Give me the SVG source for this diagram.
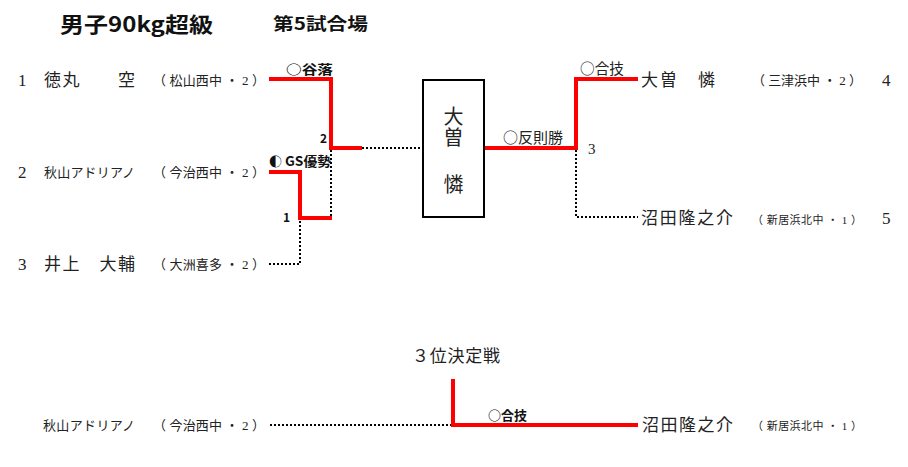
<svg xmlns="http://www.w3.org/2000/svg" width="908" height="467" viewBox="0 0 908 467">
<style>
.t{font-family:"Liberation Serif","Noto Sans CJK JP",serif;fill:#222}
.j{font-family:"Noto Sans CJK JP","Liberation Sans",sans-serif;fill:#222}
.g{font-family:"Noto Sans CJK JP","Liberation Sans",sans-serif;font-weight:bold;fill:#111}
.nm{font-size:17px}
.sm{font-size:13px}
.num{font-size:17px}
.red{stroke:#ff0000;stroke-width:4;fill:none}
.dot{stroke:#000;stroke-width:2;stroke-dasharray:2 2;fill:none}
</style>
<rect width="908" height="467" fill="#fff"/>
<g id="title">
<text class="g" x="60" y="32" font-size="21" textLength="153" lengthAdjust="spacingAndGlyphs">男子90kg超級</text>
<text class="g" x="273" y="30" font-size="17" textLength="95" lengthAdjust="spacingAndGlyphs">第5試合場</text>
</g>
<g id="connectors">
<polyline class="red" points="269,79 331,79 331,148 362,148"/>
<line class="dot" x1="362" y1="148" x2="423" y2="148"/>
<polyline class="red" points="269,172 300,172 300,218 332,218"/>
<line class="dot" x1="331" y1="150" x2="331" y2="216"/>
<polyline class="dot" points="269,264 300,264 300,220"/>
<polyline class="red" points="484,148 576,148 576,79 638,79"/>
<polyline class="dot" points="576,150 576,217 638,217"/>
<line class="dot" x1="270" y1="425" x2="453" y2="425"/>
<polyline class="red" points="453,379 453,425 638,425"/>
</g>
<g id="labels">
<text class="g" x="286" y="74" font-size="13" textLength="47" lengthAdjust="spacingAndGlyphs">○谷落</text>
<text class="g" x="320" y="143" font-size="12">2</text>
<text class="g" x="269" y="166" font-size="13">◐</text>
<text class="g" x="285" y="166" font-size="13" textLength="46" lengthAdjust="spacingAndGlyphs">GS優勢</text>
<text class="g" x="283" y="222" font-size="12">1</text>
<text class="j" x="503" y="143" font-size="15" textLength="60" lengthAdjust="spacingAndGlyphs">○反則勝</text>
<text class="j" x="580" y="74" font-size="15" textLength="44" lengthAdjust="spacingAndGlyphs">○合技</text>
<text class="t" x="588" y="154" font-size="15">3</text>
<text class="g" x="488" y="420" font-size="13" textLength="39" lengthAdjust="spacingAndGlyphs">○合技</text>
</g>
<g id="p1">
<text class="t num" x="18" y="86">1</text>
<text class="t nm" x="44" y="86" textLength="91">徳丸　　空</text>
<text class="t sm" x="153" y="85" textLength="112">（ 松山西中 ・ 2 ）</text>
</g>
<g id="p2">
<text class="t num" x="18" y="178">2</text>
<text class="t sm" x="44" y="177" textLength="91">秋山アドリアノ</text>
<text class="t sm" x="153" y="177" textLength="112">（ 今治西中 ・ 2 ）</text>
</g>
<g id="p3">
<text class="t num" x="18" y="270">3</text>
<text class="t nm" x="44" y="270" textLength="91">井上　大輔</text>
<text class="t sm" x="153" y="269" textLength="112">（ 大洲喜多 ・ 2 ）</text>
</g>
<g id="winner-box">
<rect x="423" y="80" width="61" height="137" fill="#fff" stroke="#000" stroke-width="2"/>
<text class="t" x="453.5" y="124" font-size="20" text-anchor="middle">大</text>
<text class="t" x="453.5" y="145" font-size="20" text-anchor="middle">曽</text>
<text class="t" x="453.5" y="192" font-size="20" text-anchor="middle">憐</text>
</g>
<g id="p4">
<text class="t nm" x="641" y="86" textLength="74">大曽　憐</text>
<text class="t sm" x="752" y="85" textLength="110">（ 三津浜中 ・ 2 ）</text>
<text class="t num" x="882" y="86">4</text>
</g>
<g id="p5">
<text class="t nm" x="641" y="224" textLength="92">沼田隆之介</text>
<text class="t" x="752" y="224" font-size="11" textLength="110">（ 新居浜北中 ・ 1 ）</text>
<text class="t num" x="882" y="224">5</text>
</g>
<g id="third-place">
<text class="t" x="412" y="362" font-size="17" textLength="88">３位決定戦</text>
<text class="t sm" x="43" y="430" textLength="92">秋山アドリアノ</text>
<text class="t sm" x="153" y="430" textLength="112">（ 今治西中 ・ 2 ）</text>
<text class="t nm" x="642" y="431" textLength="91">沼田隆之介</text>
<text class="t" x="752" y="430" font-size="11" textLength="110">（ 新居浜北中 ・ 1 ）</text>
</g>
</svg>
